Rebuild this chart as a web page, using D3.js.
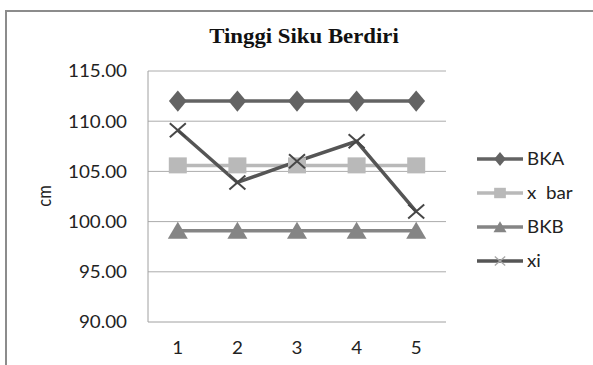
<!DOCTYPE html>
<html>
<head>
<meta charset="utf-8">
<script src="https://cdn.jsdelivr.net/npm/d3@7"></script>
<style>
  html, body { margin: 0; padding: 0; background: #fff; }
  svg { display: block; }
  text { font-family: Lato, "Open Sans", sans-serif; fill: #222; }
</style>
</head>
<body>
<svg id="chart" width="593" height="365"></svg>
<script>
// Control chart data: upper limit, mean, lower limit and the observations
const categories = ["1", "2", "3", "4", "5"];
const bka  = [112.0, 112.0, 112.0, 112.0, 112.0];
const xbar = [105.6, 105.6, 105.6, 105.6, 105.6];
const bkb  = [99.1, 99.1, 99.1, 99.1, 99.1];
const xi   = [109.1, 103.9, 106.0, 108.0, 101.0];
const yTicks = [90, 95, 100, 105, 110, 115];

const series = [
  { name: "BKA",    values: bka,  color: "#636363", marker: "diamond",  markColor: "#636363", legendMark: "#636363" },
  { name: "x  bar", values: xbar, color: "#b9b9b9", marker: "square",   markColor: "#b9b9b9", legendMark: "#b9b9b9" },
  { name: "BKB",    values: bkb,  color: "#858585", marker: "triangle", markColor: "#858585", legendMark: "#858585" },
  { name: "xi",     values: xi,   color: "#555555", marker: "cross",    markColor: "#474747", legendMark: "#a8a8a8" }
];

const svg = d3.select("#chart");
const stretch = 1.14; // text in this chart is set slightly wide

// outer chart frame
svg.append("rect")
  .attr("x", 6).attr("y", 11)
  .attr("width", 600).attr("height", 370)
  .attr("fill", "none").attr("stroke", "#8c8c8c").attr("stroke-width", 2);

const plot = { left: 148, right: 446, top: 71, bottom: 322 };

const x = d3.scaleBand().domain(categories).range([plot.left, plot.right]);
const y = d3.scaleLinear().domain([90, 115]).range([plot.bottom, plot.top]);

function wideText(sel, cx) {
  return sel.attr("transform", `translate(${cx},0) scale(${stretch},1) translate(${-cx},0)`);
}

// title
wideText(svg.append("text")
  .attr("x", 304).attr("y", 43)
  .attr("text-anchor", "middle")
  .style("font-family", "'Liberation Serif', 'Times New Roman', serif")
  .style("font-weight", "bold")
  .style("font-size", "20px")
  .style("fill", "#111")
  .text("Tinggi Siku Berdiri"), 304);

// horizontal gridlines
svg.append("g").selectAll("line")
  .data(yTicks.filter(t => t > 90))
  .join("line")
  .attr("x1", plot.left).attr("x2", plot.right)
  .attr("y1", d => y(d)).attr("y2", d => y(d))
  .attr("stroke", "#acacac").attr("stroke-width", 1);

// plot area left and bottom edges
svg.append("path")
  .attr("d", `M${plot.left},${plot.top}V${plot.bottom}H${plot.right}`)
  .attr("fill", "none").attr("stroke", "#a0a0a0").attr("stroke-width", 1);

// y axis tick labels
const yAxis = d3.axisLeft(y).tickValues(yTicks).tickFormat(d3.format(".2f")).tickSize(0).tickPadding(0);
const gy = svg.append("g").attr("transform", `translate(127,0)`).call(yAxis);
gy.select(".domain").remove();
gy.selectAll("text")
  .style("font-size", "16.5px").style("font-family", "Lato, sans-serif").style("fill", "#222")
  .attr("dy", "0.36em")
  .attr("x", 0)
  .attr("transform", `scale(${stretch},1)`);

// x axis tick labels
const xAxis = d3.axisBottom(x).tickSize(0).tickPadding(0);
const gx = svg.append("g").attr("transform", `translate(0,${plot.bottom + 26})`).call(xAxis);
gx.select(".domain").remove();
gx.selectAll("text")
  .style("font-size", "16.5px").style("font-family", "Lato, sans-serif").style("fill", "#222")
  .attr("dy", "0.36em")
  .attr("transform", `scale(${stretch},1)`);

// y axis title
svg.append("text")
  .attr("transform", `translate(51,196) rotate(-90) scale(1,${stretch})`)
  .attr("text-anchor", "middle")
  .style("font-size", "16.5px")
  .text("cm");

// marker shapes
const markerPath = {
  diamond: d3.symbol().type(d3.symbolDiamond).size(130)(),
  square: "M-9,-8H9V8H-9Z",
  triangle: "M0,-9L10,8H-10Z",
  cross: "M-8,-7L8,7M-8,7L8,-7"
};

function drawMarker(g, s, col) {
  if (s.marker === "cross") {
    g.append("path").attr("d", markerPath.cross)
      .attr("fill", "none").attr("stroke", col).attr("stroke-width", 2);
  } else if (s.marker === "diamond") {
    g.append("path").attr("d", markerPath.diamond)
      .attr("transform", "scale(1.45,1)")
      .attr("fill", col);
  } else {
    g.append("path").attr("d", markerPath[s.marker]).attr("fill", col);
  }
}

const line = d3.line()
  .x((d, i) => x(categories[i]) + x.bandwidth() / 2)
  .y(d => y(d));

series.forEach(s => {
  svg.append("path")
    .attr("d", line(s.values))
    .attr("fill", "none")
    .attr("stroke", s.color)
    .attr("stroke-width", 3.5)
    .attr("stroke-linejoin", "round");
});

series.forEach(s => {
  svg.append("g").selectAll("g")
    .data(s.values)
    .join("g")
    .attr("transform", (d, i) => `translate(${x(categories[i]) + x.bandwidth() / 2},${y(d)})`)
    .each(function () { drawMarker(d3.select(this), s, s.markColor); });
});

// legend
const legend = svg.append("g");
series.forEach((s, i) => {
  const ly = 159 + i * 34;
  const g = legend.append("g");
  g.append("line")
    .attr("x1", 477).attr("x2", 523).attr("y1", ly).attr("y2", ly)
    .attr("stroke", s.color).attr("stroke-width", 3.5);
  const m = g.append("g").attr("transform", `translate(500,${ly}) scale(0.65)`);
  drawMarker(m, s, s.legendMark);
  wideText(g.append("text")
    .attr("x", 527).attr("y", ly)
    .attr("dy", "0.36em")
    .style("font-size", "16.5px")
    .style("white-space", "pre")
    .attr("xml:space", "preserve")
    .text(s.name), 527);
});
</script>
</body>
</html>
